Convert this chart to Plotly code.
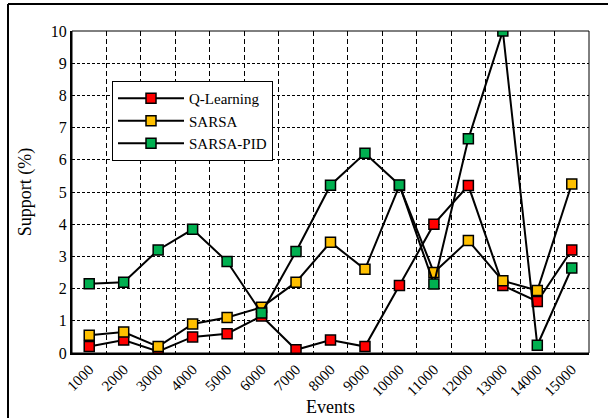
import plotly.graph_objects as go

events = ["1000", "2000", "3000", "4000", "5000", "6000", "7000", "8000",
          "9000", "10000", "11000", "12000", "13000", "14000", "15000"]
q_learning = [0.2, 0.4, 0.05, 0.5, 0.6, 1.15, 0.1, 0.4, 0.2, 2.1, 4.0, 5.2, 2.1, 1.6, 3.2]
sarsa = [0.55, 0.65, 0.2, 0.9, 1.1, 1.42, 2.2, 3.44, 2.6, 5.2, 2.5, 3.49, 2.24, 1.94, 5.25]
sarsa_pid = [2.15, 2.2, 3.2, 3.84, 2.84, 1.24, 3.15, 5.21, 6.2, 5.22, 2.14, 6.65, 10.0, 0.24, 2.64]

series = [("Q-Learning", q_learning, "#FF0000"),
          ("SARSA", sarsa, "#FFC000"),
          ("SARSA-PID", sarsa_pid, "#00B050")]

xpos = list(range(1, len(events) + 1))
font = "Liberation Serif"

fig = go.Figure()
for name, vals, col in series:
    fig.add_trace(go.Scatter(
        x=xpos, y=vals, name=name, mode="lines+markers",
        line=dict(color="black", width=2),
        marker=dict(symbol="square", size=10, color=col,
                    line=dict(color="black", width=1.5)),
    ))

L, R, T, B = 72, 19, 31, 65
W, H = 608, 418
pw, ph = W - L - R, H - T - B

fig.update_layout(
    width=W, height=H,
    margin=dict(l=L, r=R, t=T, b=B, autoexpand=False),
    paper_bgcolor="white", plot_bgcolor="white",
    font=dict(family=font, color="black", size=15),
    showlegend=True,
    legend=dict(x=(112 - L) / pw, y=(H - B - 81) / ph, xanchor="left", yanchor="top",
                bordercolor="black", borderwidth=1, bgcolor="white",
                font=dict(family=font, size=15), tracegroupgap=0, itemwidth=66),
    xaxis=dict(
        range=[0.5, len(events) + 0.5], automargin=False,
        tickmode="array", tickvals=xpos, ticktext=events, tickangle=-45,
        showgrid=False, showline=True, linecolor="black", linewidth=2,
        ticks="", zeroline=False,
        minor=dict(tickmode="array", tickvals=[i + 0.5 for i in range(1, len(events))],
                   showgrid=True, gridcolor="black", griddash="5px,3px", gridwidth=1,
                   ticks=""),
        title=dict(text="Events", font=dict(family=font, size=18), standoff=2),
        tickfont=dict(family=font, size=15),
    ),
    yaxis=dict(
        range=[0, 10], dtick=1, showgrid=True, gridcolor="black", griddash="3px,2px",
        gridwidth=1, showline=True, linecolor="black", linewidth=2, zeroline=False,
        automargin=False, ticks="",
        title=dict(text="Support (%)", font=dict(family=font, size=18), standoff=14),
        tickfont=dict(family=font, size=16),
    ),
    shapes=[
        dict(type="rect", xref="paper", yref="paper", x0=0, x1=1, y0=0, y1=1,
             line=dict(color="black", width=1), layer="above"),
        dict(type="line", xref="paper", yref="paper",
             x0=(8 - L) / pw, x1=(615 - L) / pw, y0=(H - B - 4) / ph, y1=(H - B - 4) / ph,
             line=dict(color="black", width=2)),
        dict(type="line", xref="paper", yref="paper",
             x0=(8 - L) / pw, x1=(8 - L) / pw, y0=(H - B - 4) / ph, y1=(H - B - 425) / ph,
             line=dict(color="black", width=2)),
    ],
)

fig.write_html("out.html", config={"displayModeBar": False},
               post_script="document.body.style.margin='0';")
